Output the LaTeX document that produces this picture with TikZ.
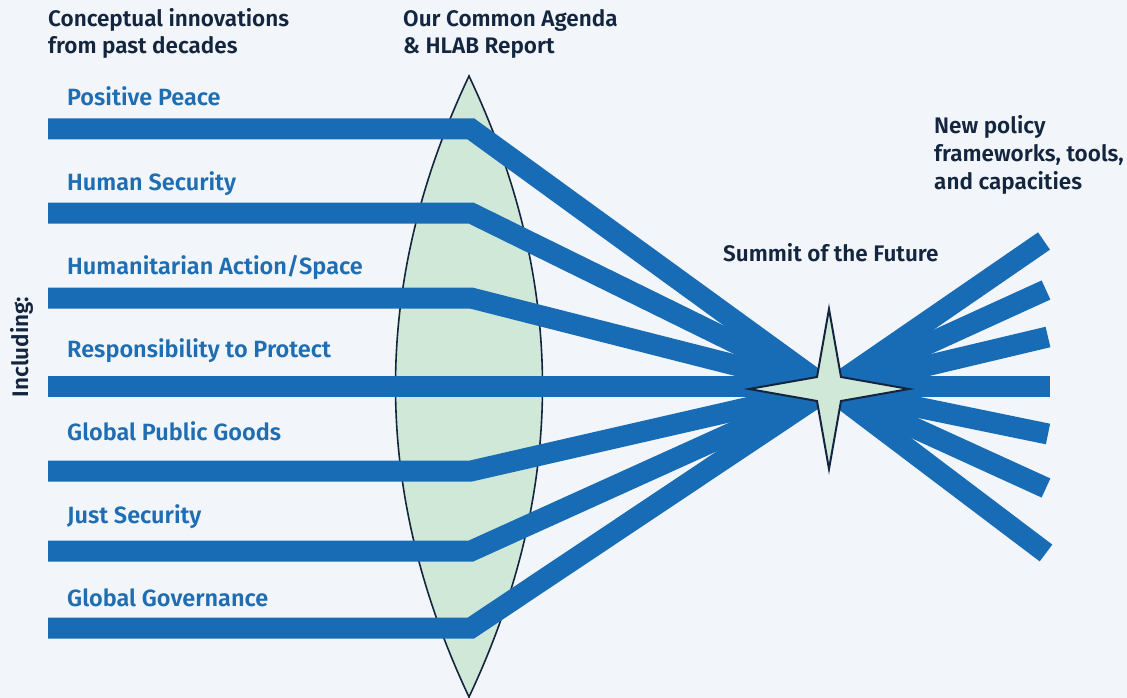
\documentclass[tikz,border=0pt]{standalone}
\usepackage{fontspec}
\setmainfont{Fira Sans}[BoldFont={Fira Sans SemiBold}]
\usetikzlibrary{calc}
\begin{document}
\begin{tikzpicture}[x=1pt,y=-1pt,
  ray/.style={draw=rayblue,line width=21pt,line join=miter,line cap=butt},
  hdr/.style={text=navy,font=\bfseries\fontsize{22.5}{27.5}\selectfont,anchor=base west,inner sep=0pt,align=left},
  lbl/.style={text=labblue,font=\bfseries\fontsize{23.5}{28}\selectfont,anchor=base west,inner sep=0pt}]
\definecolor{bg}{HTML}{F2F6FA}
\definecolor{rayblue}{HTML}{186CB6}
\definecolor{labblue}{HTML}{1F6DB3}
\definecolor{navy}{HTML}{14263F}
\definecolor{lensgreen}{HTML}{CFE8D7}
\fill[bg] (0,0) rectangle (1127,698);
\useasboundingbox (0,0) rectangle (1127,698);
% lens
\filldraw[fill=lensgreen,draw=navy,line width=1.6pt]
  (469,76) .. controls (567,283) and (567,489) .. (469,697)
           .. controls (371,489) and (371,283) .. (469,76) -- cycle;
% coordinates
\coordinate (s) at (829,389);
\foreach \n/\y in {a/129,b/213,c/298,e/471,f/551,g/628}{
  \coordinate (\n0) at (48,\y);
  \coordinate (\n1) at (471,\y);
}
\coordinate (d0) at (48,386);
\coordinate (d1) at (1050,386);
% left rays
\foreach \n in {a,b,c,e,f,g}{ \draw[ray] (\n0) -- (\n1) -- (s); }
\draw[ray] (d0) -- (d1);
% right rays
\foreach \n/\x/\y in {r1/1044/241,r2/1046/290,r3/1048/337,r5/1048/434,r6/1046/488,r7/1046/553}{
  \coordinate (\n) at (\x,\y);
  \draw[ray] (s) -- (\n);
}
% star
\filldraw[fill=lensgreen,draw=navy,line width=2pt,line join=miter]
  ($(s)+(0,-80)$) -- ($(s)+(12,-12)$) -- ($(s)+(80,0)$) -- ($(s)+(12,12)$)
  -- ($(s)+(0,80)$) -- ($(s)+(-12,12)$) -- ($(s)+(-80,0)$) -- ($(s)+(-12,-12)$) -- cycle;
% headers
\node[hdr] (h1) at (48,54) {Conceptual innovations\\from past decades};
\node[hdr] (h2) at (403,54) {Our Common Agenda\\\& HLAB Report};
\node[hdr] (h3) at (934,189) {New policy\\frameworks, tools,\\and capacities};
\node[hdr] (h4) at (723,261) {Summit of the Future};
\node[hdr,anchor=base,rotate=90] (h5) at (28,347) {Including:};
% labels
\node[lbl] (l1) at (67,106) {Positive Peace};
\node[lbl] (l2) at (67,190) {Human Security};
\node[lbl] (l3) at (67,274) {Humanitarian Action/Space};
\node[lbl] (l4) at (67,357) {Responsibility to Protect};
\node[lbl] (l5) at (67,440) {Global Public Goods};
\node[lbl] (l6) at (67,523) {Just Security};
\node[lbl] (l7) at (67,606) {Global Governance};
\end{tikzpicture}
\end{document}
